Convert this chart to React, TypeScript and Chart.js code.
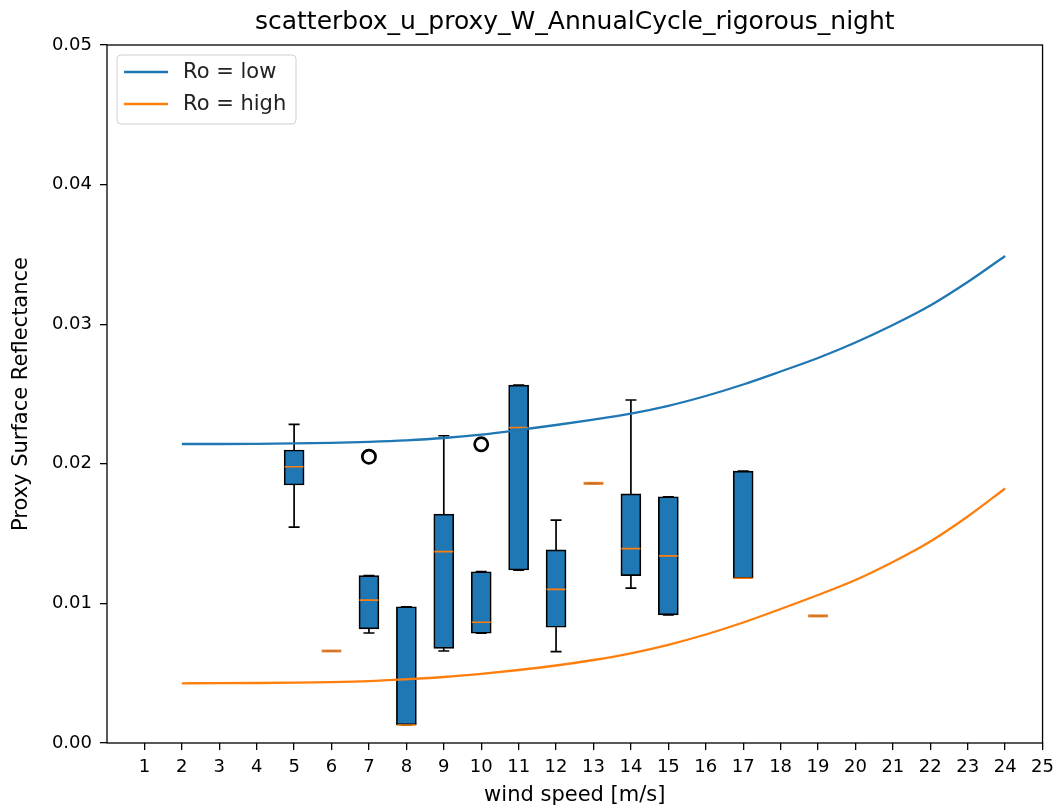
import React, { useEffect, useRef } from "react";
import { Chart, registerables } from "chart.js";

Chart.register(...registerables);

const titleText = "scatterbox_u_proxy_W_AnnualCycle_rigorous_night";
const xLabel = "wind speed [m/s]";
const yLabel = "Proxy Surface Reflectance";

const xTicks = [1, 2, 3, 4, 5, 6, 7, 8, 9, 10, 11, 12, 13, 14, 15, 16, 17, 18, 19, 20, 21, 22, 23, 24, 25];

// box plot statistics
const positions = [5, 6, 7, 8, 9, 10, 11, 12, 13, 14, 15, 17, 19];
const whiskerLow = [0.01547, 0.00659, 0.00788, 0.00129, 0.00659, 0.00786, 0.01239, 0.00654, 0.0186, 0.0111, 0.00917, 0.0118, 0.0091];
const q1 = [0.01848, 0.00659, 0.00817, 0.00129, 0.00678, 0.00786, 0.01239, 0.00829, 0.0186, 0.01199, 0.00917, 0.0118, 0.0091];
const medians = [0.01979, 0.00659, 0.01024, 0.00129, 0.01371, 0.00865, 0.02259, 0.01101, 0.0186, 0.01392, 0.0134, 0.0118, 0.0091];
const q3 = [0.02099, 0.00659, 0.01199, 0.00976, 0.0164, 0.01227, 0.02564, 0.01383, 0.0186, 0.01784, 0.01764, 0.01948, 0.0091];
const whiskerHigh = [0.02283, 0.00659, 0.01199, 0.00976, 0.02201, 0.01227, 0.02564, 0.01597, 0.0186, 0.02457, 0.01764, 0.01948, 0.0091];

const flierX = [7, 10];
const flierY = [0.02051, 0.0214];

// curves
const curveX = [2, 3, 4, 5, 6, 7, 8, 9, 10, 11, 12, 13, 14, 15, 16, 17, 18, 19, 20, 21, 22, 23, 24];
const lowY = [0.021418, 0.021418, 0.021433, 0.021461, 0.021504, 0.021576, 0.021683, 0.021848, 0.022092, 0.022421, 0.022779, 0.023166, 0.023596, 0.024155, 0.024857, 0.02568, 0.026612, 0.027579, 0.028689, 0.029943, 0.03134, 0.033023, 0.034885];
const highY = [0.004277, 0.004284, 0.004298, 0.004319, 0.004355, 0.004427, 0.004563, 0.004728, 0.004957, 0.005229, 0.005552, 0.005946, 0.006425, 0.007034, 0.007772, 0.008632, 0.009599, 0.010602, 0.011676, 0.012966, 0.014434, 0.016225, 0.018231];

const BLUE = "#1f77b4";
const ORANGE = "#ff7f0e";
const FONT = "'DejaVu Sans', sans-serif";

const framePlugin = {
  id: "frame",
  afterDatasetsDraw(chart: any) {
    const { ctx, chartArea } = chart;
    ctx.save();
    ctx.strokeStyle = "#000";
    ctx.lineWidth = 1.3;
    ctx.strokeRect(chartArea.left, chartArea.top, chartArea.right - chartArea.left, chartArea.bottom - chartArea.top);
    ctx.restore();
  },
};

const legendPlugin = {
  id: "boxLegend",
  afterDraw(chart: any) {
    const { ctx, chartArea } = chart;
    const items = chart.data.datasets.filter((d: any) => d.inLegend);
    const x0 = chartArea.left + 10;
    const y0 = chartArea.top + 10;
    const w = 179;
    const h = 69;
    ctx.save();
    ctx.beginPath();
    const r = 4;
    ctx.moveTo(x0 + r, y0);
    ctx.lineTo(x0 + w - r, y0);
    ctx.quadraticCurveTo(x0 + w, y0, x0 + w, y0 + r);
    ctx.lineTo(x0 + w, y0 + h - r);
    ctx.quadraticCurveTo(x0 + w, y0 + h, x0 + w - r, y0 + h);
    ctx.lineTo(x0 + r, y0 + h);
    ctx.quadraticCurveTo(x0, y0 + h, x0, y0 + h - r);
    ctx.lineTo(x0, y0 + r);
    ctx.quadraticCurveTo(x0, y0, x0 + r, y0);
    ctx.closePath();
    ctx.fillStyle = "rgba(255,255,255,0.8)";
    ctx.fill();
    ctx.strokeStyle = "#d0d0d0";
    ctx.lineWidth = 1;
    ctx.stroke();
    ctx.font = `21px ${FONT}`;
    ctx.textBaseline = "middle";
    items.forEach((d: any, i: number) => {
      const y = y0 + 17 + i * 32;
      ctx.strokeStyle = d.borderColor;
      ctx.lineWidth = 2.3;
      ctx.beginPath();
      ctx.moveTo(x0 + 7, y);
      ctx.lineTo(x0 + 51, y);
      ctx.stroke();
      ctx.fillStyle = "#222";
      ctx.fillText(d.label, x0 + 66, y + 1);
    });
    ctx.restore();
  },
};

export default function App() {
  const ref = useRef<HTMLCanvasElement | null>(null);

  useEffect(() => {
    if (!ref.current) return;

    const whiskerData: any[] = [];
    positions.forEach((p, i) => {
      whiskerData.push({ x: p, y: q3[i] }, { x: p, y: whiskerHigh[i] }, { x: p, y: null });
      whiskerData.push({ x: p, y: q1[i] }, { x: p, y: whiskerLow[i] }, { x: p, y: null });
    });
    const capData: any[] = [];
    positions.forEach((p, i) => {
      capData.push({ x: p, y: whiskerHigh[i] }, { x: p, y: whiskerLow[i] });
    });
    // boxes whose quartiles coincide are drawn as a flat box outline
    const flatData = positions
      .map((x, i) => ({ x, y: q1[i], flat: q1[i] === q3[i] }))
      .filter((d) => d.flat)
      .map(({ x, y }) => ({ x, y }));

    const chart = new Chart(ref.current, {
      type: "bar",
      data: {
        datasets: [
          {
            type: "line",
            label: "Ro = low",
            inLegend: true,
            data: curveX.map((x, i) => ({ x, y: lowY[i] })),
            borderColor: BLUE,
            backgroundColor: BLUE,
            borderWidth: 2.3,
            pointRadius: 0,
            cubicInterpolationMode: "monotone",
            order: 0,
          } as any,
          {
            type: "line",
            label: "Ro = high",
            inLegend: true,
            data: curveX.map((x, i) => ({ x, y: highY[i] })),
            borderColor: ORANGE,
            backgroundColor: ORANGE,
            borderWidth: 2.3,
            pointRadius: 0,
            cubicInterpolationMode: "monotone",
            order: 0,
          } as any,
          {
            type: "scatter",
            label: "fliers",
            data: flierX.map((x, i) => ({ x, y: flierY[i] })),
            pointStyle: "circle",
            pointRadius: 6.6,
            borderColor: "#000",
            backgroundColor: "rgba(0,0,0,0)",
            borderWidth: 2.7,
            order: 1,
          } as any,
          {
            type: "scatter",
            label: "flat box edge",
            data: flatData,
            pointStyle: "line",
            pointRadius: 9,
            borderColor: "rgba(130,95,65,0.55)",
            borderWidth: 1,
            order: 1.5,
          } as any,
          {
            type: "scatter",
            label: "medians",
            data: positions.map((x, i) => ({ x, y: medians[i] })),
            pointStyle: "line",
            pointRadius: 9.5,
            borderColor: ORANGE,
            backgroundColor: ORANGE,
            borderWidth: 1.7,
            order: 2,
          } as any,
          {
            type: "scatter",
            label: "flat box",
            data: flatData,
            pointStyle: "line",
            pointRadius: 10,
            borderColor: "rgba(230,140,70,0.85)",
            borderWidth: 3.2,
            order: 2.5,
          } as any,
          {
            type: "scatter",
            label: "caps",
            data: capData,
            pointStyle: "line",
            pointRadius: 5.5,
            borderColor: "#000",
            backgroundColor: "#000",
            borderWidth: 1.7,
            order: 3,
          } as any,
          {
            type: "bar",
            label: "boxes",
            data: positions.map((x, i) => ({ x, y: [q1[i], q3[i]] })),
            backgroundColor: BLUE,
            borderColor: "#000",
            borderWidth: 1.7,
            borderSkipped: false,
            barThickness: 20,
            order: 4,
          } as any,
          {
            type: "line",
            label: "whiskers",
            data: whiskerData,
            borderColor: "#000",
            borderWidth: 1.7,
            pointRadius: 0,
            spanGaps: false,
            order: 5,
          } as any,
        ],
      },
      options: {
        responsive: false,
        animation: false,
        events: [],
        layout: { padding: { left: 0, right: 15, top: 0, bottom: 0 } },
        plugins: {
          legend: { display: false },
          tooltip: { enabled: false },
          title: {
            display: true,
            fullSize: false,
            text: titleText,
            color: "#000",
            font: { family: FONT, size: 25, weight: "normal" },
            padding: { top: 7.5, bottom: 7.5 },
          },
        },
        scales: {
          x: {
            type: "linear",
            min: 0,
            max: 25,
            offset: false,
            grid: { display: true, drawOnChartArea: false, drawTicks: true, tickLength: 7, color: "#000", lineWidth: 1.3, offset: false },
            border: { display: false },
            ticks: {
              color: "#000",
              font: { family: FONT, size: 18 },
              padding: 7,
              maxRotation: 0,
              autoSkip: false,
            },
            afterBuildTicks: (scale: any) => {
              scale.ticks = xTicks.map((v) => ({ value: v }));
            },
            afterFit: (scale: any) => {
              scale.height = 66;
            },
            title: {
              display: true,
              text: xLabel,
              color: "#000",
              font: { family: FONT, size: 21 },
              padding: { top: 0, bottom: 0.5 },
            },
          },
          y: {
            type: "linear",
            min: 0,
            max: 0.05,
            grid: { display: true, drawOnChartArea: false, drawTicks: true, tickLength: 7, color: "#000", lineWidth: 1.3 },
            border: { display: false },
            ticks: {
              stepSize: 0.01,
              color: "#000",
              font: { family: FONT, size: 18 },
              padding: 8,
              callback: (v: any) => Number(v).toFixed(2),
            },
            afterFit: (scale: any) => {
              scale.width = 107;
            },
            title: {
              display: true,
              text: yLabel,
              color: "#000",
              font: { family: FONT, size: 21 },
              padding: { top: 9.4, bottom: 0 },
            },
          },
        },
      } as any,
      plugins: [framePlugin, legendPlugin],
    });

    return () => chart.destroy();
  }, []);

  return (
    <div style={{ position: "absolute", left: 0, top: 0, width: 1061, height: 809, background: "#fff" }}>
      <canvas ref={ref} width={1061} height={809} />
    </div>
  );
}
